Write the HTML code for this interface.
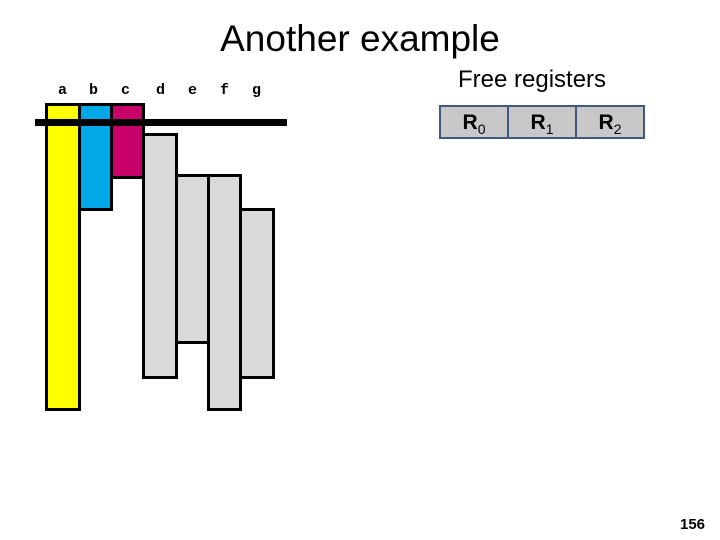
<!DOCTYPE html>
<html><head><style>
body{margin:0;width:720px;height:540px;background:#fff;position:relative;overflow:hidden;font-family:"Liberation Sans",sans-serif}
.b{position:absolute;border:3px solid #000;box-sizing:border-box}
.t{position:absolute}
.l{position:absolute;top:82px;font-family:"Liberation Mono",monospace;font-weight:bold;font-size:15px}
.r{position:absolute;top:105px;height:34px;background:#c8c8c8;border:2px solid #3f5a7f;box-sizing:border-box;font-weight:bold;font-size:21px;text-align:center;line-height:32px}
.r sub{font-weight:normal;font-size:14px}
</style></head><body>
<div class="t" style="left:0;width:720px;top:18px;text-align:center;font-size:37px;">Another example</div>
<div class="l" style="left:58px">a</div>
<div class="l" style="left:89px">b</div>
<div class="l" style="left:121px">c</div>
<div class="l" style="left:156px">d</div>
<div class="l" style="left:188px">e</div>
<div class="l" style="left:220px">f</div>
<div class="l" style="left:252px">g</div>
<div class="b" style="left:45px;top:103px;width:36px;height:308px;background:#ffff00"></div>
<div class="b" style="left:78px;top:103px;width:35px;height:108px;background:#00a8e8"></div>
<div class="b" style="left:110px;top:103px;width:35px;height:76px;background:#c8006a"></div>
<div class="b" style="left:142px;top:133px;width:36px;height:246px;background:#d9d9d9"></div>
<div class="b" style="left:175px;top:174px;width:35px;height:170px;background:#d9d9d9"></div>
<div class="b" style="left:207px;top:174px;width:35px;height:237px;background:#d9d9d9"></div>
<div class="b" style="left:239px;top:208px;width:36px;height:171px;background:#d9d9d9"></div>
<div style="position:absolute;left:35px;top:119px;width:252px;height:7px;background:#000"></div>
<div class="t" style="left:458px;top:66px;font-size:24px">Free registers</div>
<div class="r" style="left:439px;width:70px">R<sub>0</sub></div>
<div class="r" style="left:507px;width:70px">R<sub>1</sub></div>
<div class="r" style="left:575px;width:70px">R<sub>2</sub></div>
<div class="t" style="left:680px;top:516px;font-size:15px;font-weight:bold">156</div>
</body></html>
